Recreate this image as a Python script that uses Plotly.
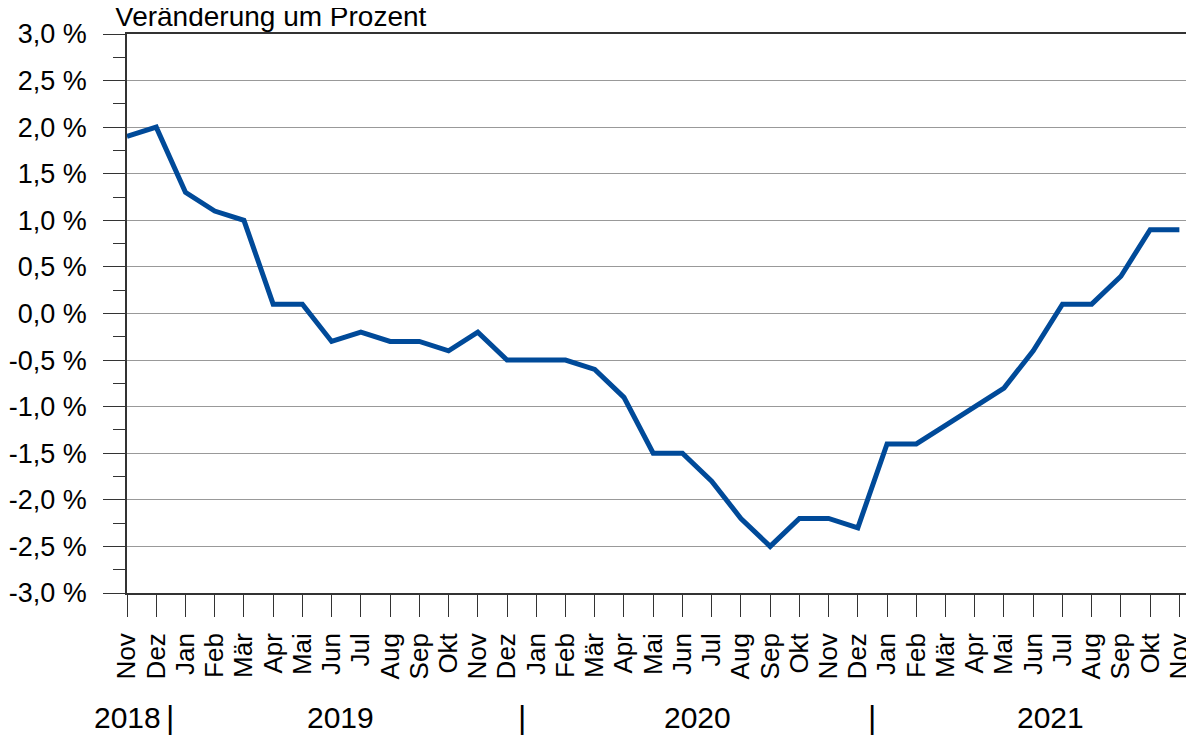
import plotly.graph_objects as go

months = ["Nov", "Dez", "Jan", "Feb", "Mär", "Apr", "Mai", "Jun", "Jul", "Aug", "Sep", "Okt",
          "Nov", "Dez", "Jan", "Feb", "Mär", "Apr", "Mai", "Jun", "Jul", "Aug", "Sep", "Okt",
          "Nov", "Dez", "Jan", "Feb", "Mär", "Apr", "Mai", "Jun", "Jul", "Aug", "Sep", "Okt", "Nov"]
values = [1.9, 2.0, 1.3, 1.1, 1.0, 0.1, 0.1, -0.3, -0.2, -0.3, -0.3, -0.4,
          -0.2, -0.5, -0.5, -0.5, -0.6, -0.9, -1.5, -1.5, -1.8, -2.2, -2.5, -2.2,
          -2.2, -2.3, -1.4, -1.4, -1.2, -1.0, -0.8, -0.4, 0.1, 0.1, 0.4, 0.9, 0.9]
y_ticks = [3.0, 2.5, 2.0, 1.5, 1.0, 0.5, 0.0, -0.5, -1.0, -1.5, -2.0, -2.5, -3.0]
y_ticklabels = ["3,0 %", "2,5 %", "2,0 %", "1,5 %", "1,0 %", "0,5 %", "0,0 %",
                "-0,5 %", "-1,0 %", "-1,5 %", "-2,0 %", "-2,5 %", "-3,0 %"]
years = ["2018", "2019", "2020", "2021"]
year_pos = [0.0, 7.3, 19.5, 31.6]
sep_pos = [1.47, 13.5, 25.5]

xs = list(range(len(values)))
FONT = "Liberation Sans, Arial, sans-serif"

fig = go.Figure()
fig.add_trace(go.Scatter(x=xs, y=values, mode="lines",
                         line=dict(color="#004a99", width=5), hoverinfo="skip",
                         cliponaxis=False))

# page body has an 8px margin, so the figure is sized to fit inside the window
fig.update_layout(
    width=1186, height=729,
    margin=dict(l=119, r=0, t=26, b=144, autoexpand=False),
    paper_bgcolor="white", plot_bgcolor="white",
    showlegend=False,
    font=dict(family=FONT, size=26, color="black"),
    xaxis=dict(range=[0, 36.5], tickmode="array", tickvals=xs, ticktext=months,
               tickangle=-90, ticks="outside", ticklen=22, tickcolor="#333",
               tickwidth=1, showgrid=False, zeroline=False, automargin=False,
               showline=True, linecolor="#333", linewidth=1.5, mirror=True,
               ticklabelstandoff=6, tickfont=dict(size=26)),
    yaxis=dict(range=[-3, 3], tickmode="array", tickvals=y_ticks, ticktext=y_ticklabels,
               ticks="outside", ticklen=22, tickcolor="#333", tickwidth=1,
               showgrid=True, gridcolor="#999999", gridwidth=1, zeroline=False,
               showline=True, linecolor="#333", linewidth=1.5, automargin=False,
               ticklabelstandoff=11, tickfont=dict(size=27)),
)
fig.update_yaxes(minor=dict(tickmode="linear", tick0=0.25, dtick=0.5, ticks="outside",
                            ticklen=12, tickcolor="#333", showgrid=False))

ann = [dict(text="Veränderung um Prozent", xref="paper", yref="paper",
            x=-0.0132, y=1.031, xanchor="left", yanchor="middle",
            showarrow=False, font=dict(size=28))]
for yr, xp in zip(years, year_pos):
    ann.append(dict(text=yr, xref="x", yref="paper", x=xp, y=-0.222,
                    xanchor="center", yanchor="middle", showarrow=False,
                    font=dict(size=30)))
for xp in sep_pos:
    ann.append(dict(text="|", xref="x", yref="paper", x=xp, y=-0.222,
                    xanchor="center", yanchor="middle", showarrow=False,
                    font=dict(size=32)))
fig.update_layout(annotations=ann)

fig.write_html("out.html")
